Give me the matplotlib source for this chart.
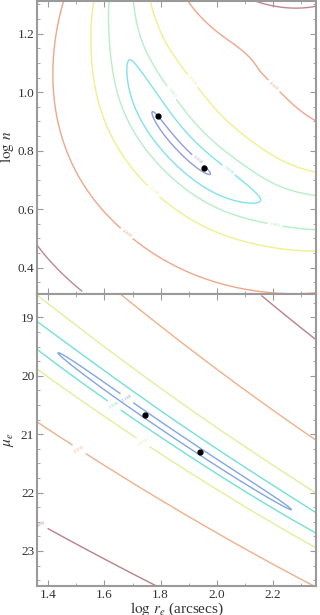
import numpy as np
import matplotlib
matplotlib.use("Agg")
import matplotlib.pyplot as plt
from matplotlib.ticker import MultipleLocator

# ---------------- data ----------------
# best-fit points
top_pts_x = [1.79, 1.955]
top_pts_y = [0.917, 0.739]
bot_pts_x = [1.745, 1.939]
bot_pts_mu = [20.68, 21.31]

# contour levels (log chi^2 like)
top_levels = [3.15, 3.63, 3.88, 4.14, 4.44, 4.68]
bot_levels = [3.14, 3.55, 3.93, 4.35, 4.69]

top_colors = ['#8e9ddc', '#80e2f0', '#b6efc6', '#f3ee8c', '#efa68a', '#c0878f']
bot_colors = ['#80a6e4', '#72e0d6', '#e2ee9c', '#f0b08a', '#b9808c']

# surface model parameters (valley geometry)
top_xc, top_yc, top_R = 2.416, 1.313, 0.7567
bot_mu0, bot_m1, bot_m2 = 21.02, 3.23, -0.39

xlim = (1.36, 2.353)
top_ylim = (0.31, 1.313)
bot_ylim = (23.6, 18.6)

# ---------------- surfaces ----------------
xg = np.linspace(1.30, 2.42, 700)

# top: log r_e vs log n  (curved valley)
yg = np.linspace(0.25, 1.36, 700)
X, Y = np.meshgrid(xg, yg)
U = top_xc - X
V = (top_yc - Y) * 1.039
r = np.hypot(U, V)
th = np.arctan2(U, V)
dth = th - np.radians(47)
f = np.exp(-np.where(dth > 0, 0.94, 0.35) * dth ** 2)
S = 3.2 * (1 - np.exp(-(dth / 0.448) ** 4))
d = r - top_R
c = 0.3 + 0.5 * np.clip(dth, 0, None)
d_eff = np.where(d < 0, d / (1 + c * np.abs(d)), d)
q = (d_eff / (0.0355 * f)) ** 2 + S
Ztop = 3 + np.log10(1 + q / 0.13) / 2

# bottom: log r_e vs mu_e
mg = np.linspace(18.3, 23.9, 700)
X2, M2 = np.meshgrid(xg, mg)
sx = X2 - 1.85
muc = bot_mu0 + bot_m1 * sx + bot_m2 * sx ** 2
w = np.exp(-0.3 * sx)
d2 = (M2 - muc) / w
D2 = np.where(d2 > 0, (d2 / 0.125) ** 2, (d2 / 0.168) ** 2)
S2 = 0.18 * (sx / 0.415) ** 4
q2 = D2 + S2
Zbot = 3 + np.log10(1 + q2 / 0.2) / 2

# ---------------- figure ----------------
plt.rcParams['font.family'] = ['Liberation Serif', 'DejaVu Serif']
plt.rcParams['mathtext.fontset'] = 'stix'
fig = plt.figure(figsize=(3.2, 6.15), dpi=100)
ax1 = fig.add_axes([0.1156, 0.522, 0.8719, 0.477])
ax2 = fig.add_axes([0.1156, 0.0472, 0.8719, 0.4748])

frame_col = '#9a9a9a'
txt_col = '#333333'
for ax in (ax1, ax2):
    for sp in ax.spines.values():
        sp.set_color(frame_col)
        sp.set_linewidth(1.5)
    ax.tick_params(which='both', direction='in', top=True, right=True,
                   color=frame_col, labelcolor=txt_col, labelsize=9.5, pad=2)
    ax.tick_params(which='major', length=4, width=0.8)
    ax.tick_params(which='minor', length=2, width=0.6)
    ax.set_xlim(*xlim)
    ax.xaxis.set_major_locator(MultipleLocator(0.2))
    ax.xaxis.set_minor_locator(MultipleLocator(0.1))

cs1 = ax1.contour(X, Y, Ztop, levels=top_levels, colors=top_colors, linewidths=1.0)
ax1.clabel(cs1, fmt='%.3f', fontsize=3.5, inline=True, inline_spacing=2)
ax1.plot(top_pts_x, top_pts_y, 'o', color='black', markersize=3.5)
ax1.set_ylim(*top_ylim)
ax1.yaxis.set_major_locator(MultipleLocator(0.2))
ax1.yaxis.set_minor_locator(MultipleLocator(0.05))
ax1.tick_params(labelbottom=False)
ax1.set_ylabel(r'$\log\,n$', fontsize=11, color=txt_col)
ax1.yaxis.set_label_coords(-0.075, 0.5)

cs2 = ax2.contour(X2, M2, Zbot, levels=bot_levels, colors=bot_colors, linewidths=1.0)
ax2.clabel(cs2, fmt='%.3f', fontsize=3.5, inline=True, inline_spacing=2)
ax2.plot(bot_pts_x, bot_pts_mu, 'o', color='black', markersize=3.5)
ax2.set_ylim(*bot_ylim)
ax2.yaxis.set_major_locator(MultipleLocator(1))
ax2.yaxis.set_minor_locator(MultipleLocator(0.25))
ax2.set_ylabel(r'$\mu_e$', fontsize=11, color=txt_col)
ax2.yaxis.set_label_coords(-0.075, 0.5)
ax2.set_xlabel(r'$\log\,r_e$ (arcsecs)', fontsize=11, color=txt_col, labelpad=0)

fig.savefig('out.png', dpi=100)
